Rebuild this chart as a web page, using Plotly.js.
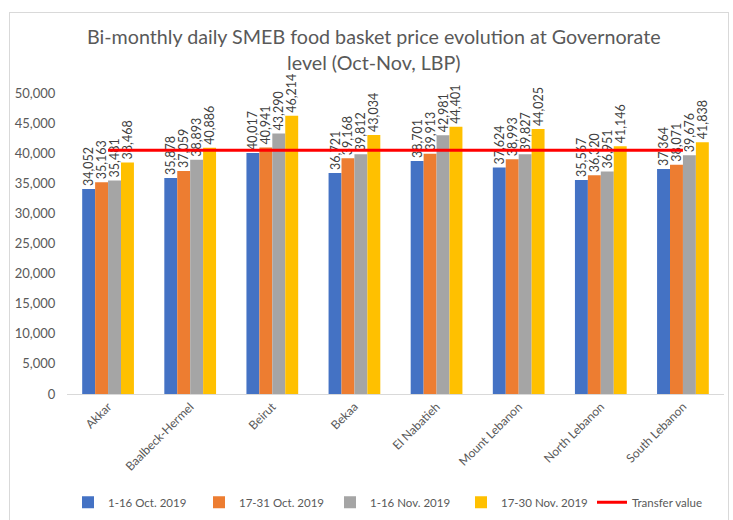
<!DOCTYPE html>
<html><head><meta charset="utf-8">
<script src="https://cdn.plot.ly/plotly-3.0.1.min.js"></script>
<style>body{margin:0;background:#fff}#wrap{position:relative;width:733px;height:520px}#frame{position:absolute;left:9px;top:12px;width:718px;height:510px;border:1px solid #d9d9d9;pointer-events:none}</style>
</head><body>
<div id="wrap"><div id="chart" style="width:733px;height:520px"></div><div id="frame"></div></div>
<script>
const categories = ["Akkar","Baalbeck-Hermel","Beirut","Bekaa","El Nabatieh","Mount Lebanon","North Lebanon","South Lebanon"];
const seriesNames = ["1-16 Oct. 2019","17-31 Oct. 2019","1-16 Nov. 2019","17-30 Nov. 2019"];
const oct1 = [34052,35878,40017,36721,38701,37624,35567,37364];
const oct2 = [35163,37059,40941,39168,39913,38993,36320,38071];
const nov1 = [35481,38893,43290,39812,42981,39827,36951,39676];
const nov2 = [38468,40886,46214,43034,44401,44025,41146,41838];
const transferValue = [40500,40500,40500,40500,40500,40500,40500,40500];
const colors = ["#4472C4","#ED7D31","#A5A5A5","#FFC000"];
const FONT = "Lato, 'Liberation Sans', Arial, sans-serif";
const fmt = v => v.toLocaleString('en-US');
const series = [oct1,oct2,nov1,nov2];
const traces = series.map((vals,i)=>({
  type:'bar', name:seriesNames[i], x:categories, y:vals,
  marker:{color:colors[i]},
  text:vals.map(fmt), textposition:'outside', textangle:-90, constraintext:'none',
  textfont:{size:12.5,color:'#404040',family:FONT},
  cliponaxis:false, hoverinfo:'x+y'
}));
traces.push({type:'scatter',mode:'lines',name:'Transfer value',x:categories,y:transferValue,
  line:{color:'#FF0000',width:3}});
const layout = {
  width:733,height:520,
  margin:{l:67,r:9,t:93,b:126,autoexpand:false},
  paper_bgcolor:'#fff',plot_bgcolor:'#fff',
  font:{family:FONT,color:'#595959'},
  title:{text:'Bi-monthly daily SMEB food basket price evolution at Governorate<br>level (Oct-Nov, LBP)',
    font:{size:19.7,color:'#595959',family:FONT},x:0.51,xanchor:'center',yref:'container',y:0.915,yanchor:'top'},
  barmode:'group',bargap:0.37,bargroupgap:0,
  xaxis:{type:'category',tickangle:-45,tickfont:{size:12,color:'#595959'},automargin:false,
    showline:true,linecolor:'#d9d9d9',linewidth:1,ticks:'',showgrid:false},
  yaxis:{range:[0,50000],dtick:5000,tickformat:',d',tickfont:{size:13,color:'#595959'},automargin:false,
    showgrid:false,zeroline:false,showline:false,ticks:'outside',ticklen:8,tickcolor:'rgba(0,0,0,0)'},
  legend:{orientation:'h',x:0.5,xanchor:'center',y:-0.36,yanchor:'middle',
    font:{size:11.5,color:'#595959'},traceorder:'normal',itemwidth:30,entrywidth:86,entrywidthmode:'pixels'},
  showlegend:true
};
Plotly.newPlot('chart',traces,layout,{displayModeBar:false,staticPlot:true});
</script>
</body></html>
